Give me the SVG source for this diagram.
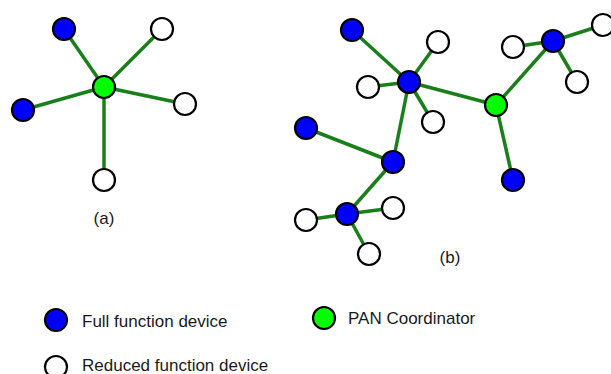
<svg xmlns="http://www.w3.org/2000/svg" width="611" height="374" viewBox="0 0 611 374">
<style>
.e{stroke:#1a7f1a;stroke-width:3.5;fill:none}
.n{stroke:#000;stroke-width:2.2}
.f{fill:#0000ff}
.p{fill:#00ff00}
.r{fill:#fff}
text{font-family:"Liberation Sans",Arial,sans-serif;font-size:17px;fill:#1a1a1a}
</style>
<rect width="611" height="374" fill="#fff"/>
<g id="connectors">
<line class="e" x1="104" y1="87" x2="64" y2="29"/>
<line class="e" x1="104" y1="87" x2="162" y2="29"/>
<line class="e" x1="104" y1="87" x2="23" y2="110"/>
<line class="e" x1="104" y1="87" x2="185" y2="104"/>
<line class="e" x1="104" y1="87" x2="104" y2="180"/>
<line class="e" x1="409" y1="82" x2="352" y2="30"/>
<line class="e" x1="409" y1="82" x2="438" y2="42"/>
<line class="e" x1="409" y1="82" x2="368" y2="87"/>
<line class="e" x1="409" y1="82" x2="433" y2="122"/>
<line class="e" x1="409" y1="82" x2="496" y2="105"/>
<line class="e" x1="409" y1="82" x2="393" y2="162"/>
<line class="e" x1="496" y1="105" x2="553" y2="41"/>
<line class="e" x1="496" y1="105" x2="513" y2="180"/>
<line class="e" x1="553" y1="41" x2="513" y2="47"/>
<line class="e" x1="553" y1="41" x2="603" y2="25"/>
<line class="e" x1="553" y1="41" x2="577" y2="82"/>
<line class="e" x1="393" y1="162" x2="306" y2="128"/>
<line class="e" x1="393" y1="162" x2="347" y2="214"/>
<line class="e" x1="347" y1="214" x2="306" y2="220"/>
<line class="e" x1="347" y1="214" x2="393" y2="208"/>
<line class="e" x1="347" y1="214" x2="369" y2="254"/>
</g>
<g id="a-coord"><circle class="n p" cx="104" cy="87" r="11"/></g>
<g id="a-ffd1"><circle class="n f" cx="64" cy="29" r="11"/></g>
<g id="a-rfd1"><circle class="n r" cx="162" cy="29" r="11"/></g>
<g id="a-ffd2"><circle class="n f" cx="23" cy="110" r="11"/></g>
<g id="a-rfd2"><circle class="n r" cx="185" cy="104" r="11"/></g>
<g id="a-rfd3"><circle class="n r" cx="104" cy="180" r="11"/></g>
<g id="b-ffd-a"><circle class="n f" cx="352" cy="30" r="11"/></g>
<g id="b-rfd-b"><circle class="n r" cx="438" cy="42" r="11"/></g>
<g id="b-ffd-c"><circle class="n f" cx="409" cy="82" r="11"/></g>
<g id="b-rfd-d"><circle class="n r" cx="368" cy="87" r="11"/></g>
<g id="b-rfd-e"><circle class="n r" cx="433" cy="122" r="11"/></g>
<g id="b-coord"><circle class="n p" cx="496" cy="105" r="11"/></g>
<g id="b-rfd-g"><circle class="n r" cx="513" cy="47" r="11"/></g>
<g id="b-ffd-h"><circle class="n f" cx="553" cy="41" r="11"/></g>
<g id="b-rfd-i"><circle class="n r" cx="603" cy="25" r="11"/></g>
<g id="b-rfd-j"><circle class="n r" cx="577" cy="82" r="11"/></g>
<g id="b-ffd-k"><circle class="n f" cx="513" cy="180" r="11"/></g>
<g id="b-ffd-l"><circle class="n f" cx="306" cy="128" r="11"/></g>
<g id="b-ffd-m"><circle class="n f" cx="393" cy="162" r="11"/></g>
<g id="b-ffd-n"><circle class="n f" cx="347" cy="214" r="11"/></g>
<g id="b-rfd-o"><circle class="n r" cx="306" cy="220" r="11"/></g>
<g id="b-rfd-p"><circle class="n r" cx="393" cy="208" r="11"/></g>
<g id="b-rfd-q"><circle class="n r" cx="369" cy="254" r="11"/></g>
<text x="104" y="224" text-anchor="middle">(a)</text>
<text x="450" y="263" text-anchor="middle">(b)</text>
<g id="legend">
<g id="leg-ffd"><circle class="n f" cx="56" cy="320" r="11"/><text x="82" y="327">Full function device</text></g>
<g id="leg-coord"><circle class="n p" cx="324" cy="318" r="11"/><text x="348" y="324">PAN Coordinator</text></g>
<g id="leg-rfd"><circle class="n r" cx="56" cy="367" r="11"/><text x="82" y="371">Reduced function device</text></g>
</g>
</svg>
